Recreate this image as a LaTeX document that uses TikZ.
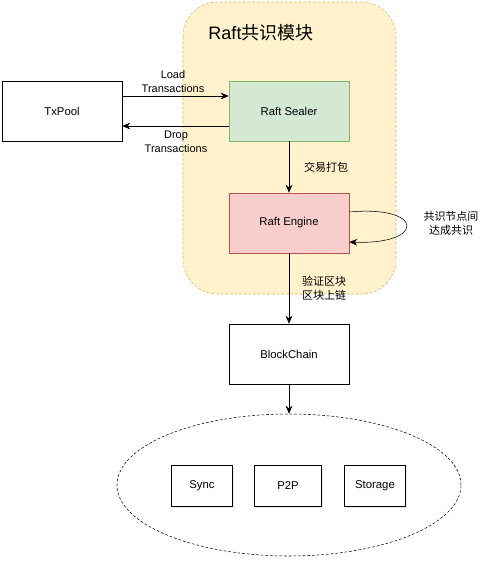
\documentclass[tikz,border=0pt]{standalone}
\usepackage{fontspec}
\setmainfont{Liberation Sans}
\newfontfamily\cjk{Noto Sans CJK SC}
\usetikzlibrary{arrows.meta,positioning,shapes.geometric,shadows}
\definecolor{modfill}{HTML}{FFF2CC}
\definecolor{moddraw}{HTML}{D6B656}
\definecolor{sealfill}{HTML}{D5E8D4}
\definecolor{sealdraw}{HTML}{82B366}
\definecolor{engfill}{HTML}{F8CECC}
\definecolor{engdraw}{HTML}{B85450}
\tikzset{
	box/.style={draw,rectangle,align=center,fill=white,minimum width=90pt,minimum height=45pt,
		font=\fontsize{8.5}{10}\selectfont,drop shadow={shadow xshift=1pt,shadow yshift=-1pt,opacity=0.2}},
	smallbox/.style={box,minimum width=46pt,minimum height=31pt},
	lbl/.style={align=center,font=\fontsize{8.25}{10.5}\selectfont},
	every new ->/.style={shorten >=0pt},
	>={Stealth[length=6pt,width=5pt]}
}
\begin{document}
\begin{tikzpicture}[x=0.75pt,y=-0.75pt]
			\useasboundingbox (0,0) rectangle (492,562);
			\draw[moddraw,fill=modfill,dash pattern=on 2pt off 1.5pt,rounded corners=26pt] (183,2) rectangle (396,294);
			\node[font=\fontsize{13.5}{15}\selectfont] (title) at (261,33) {Raft\cjk 共识模块};
			
			\node[box] (tx) at (62,111) {TxPool};
			\node[box,fill=sealfill,draw=sealdraw] (seal) at (289,111) {Raft Sealer};
			\node[box,fill=engfill,draw=engdraw] (eng) at (289,223) {Raft Engine};
			\node[box] (bc) at (289,354) {BlockChain};
			\node[draw,ellipse,dash pattern=on 2pt off 1.5pt,minimum width=258pt,minimum height=106.5pt,inner sep=0pt] (grp) at (289,485) {};
			\node[smallbox] (sync) at (202,486) {Sync};
			\node[smallbox,minimum width=50pt] (p2p) at (288,486) {P2P};
			\node[smallbox] (stor) at (375,486) {Storage};
			
			\node[lbl] (load) at (173,82) {Load\\Transactions};
			\node[lbl] (drop) at (176,142) {Drop\\Transactions};
			\node[lbl,font=\fontsize{8.25}{10.5}\selectfont\cjk] (pack) at (326,167) {交易打包};
			\node[lbl,font=\fontsize{8.25}{10.5}\selectfont\cjk] (cons) at (451,223) {共识节点间\\达成共识};
			\node[lbl,font=\fontsize{8.25}{10.5}\selectfont\cjk] (chain) at (324,288) {验证区块\\区块上链};
			
			\draw[->] ([yshift=11.25pt]tx.east) -> ([yshift=11.25pt]seal.west);
			\draw[->] ([yshift=-11.25pt]seal.west) -> ([yshift=-11.25pt]tx.east);
			\draw[->] (seal) -> (eng);
			\draw[->] ([yshift=8.25pt]eng.east) .. controls +(76,-7) and +(76,3) .. ([yshift=-14.25pt]eng.east);
			\draw[->] (eng) -> (bc);
			\draw[->] (bc) -> (grp);
		\end{tikzpicture}
\end{document}
